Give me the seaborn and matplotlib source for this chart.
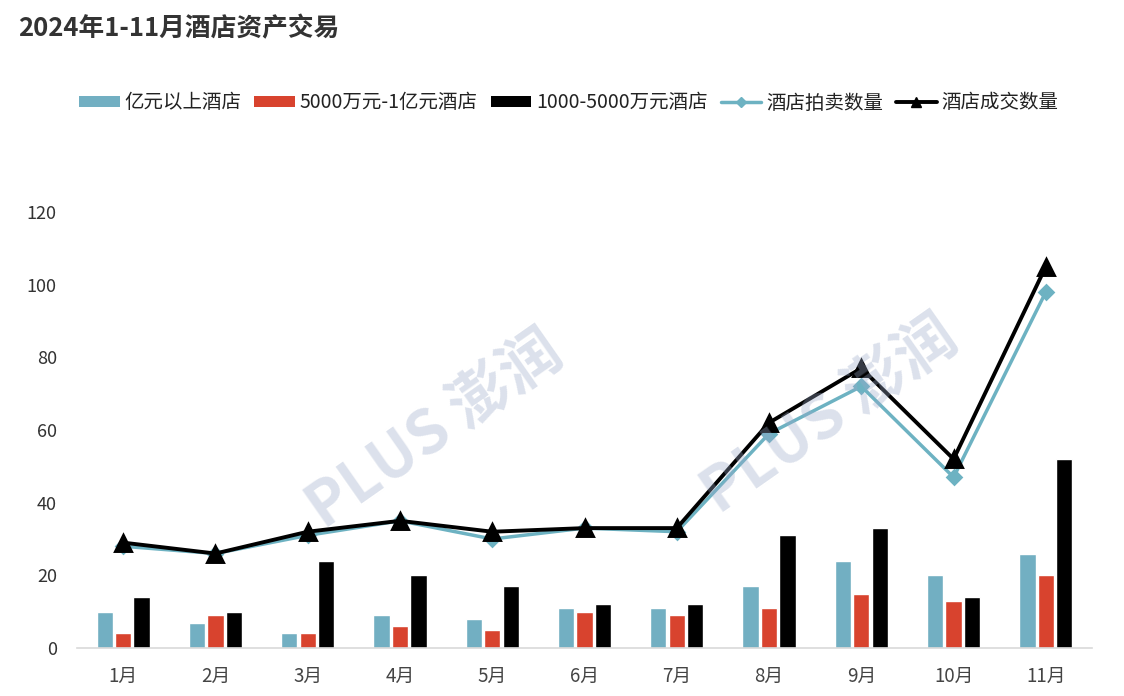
import numpy as np
import pandas as pd
import matplotlib
matplotlib.use("Agg")
import matplotlib.pyplot as plt
from matplotlib.patches import Patch
from matplotlib.lines import Line2D
import seaborn as sns

months = ["1月", "2月", "3月", "4月", "5月", "6月", "7月", "8月", "9月", "10月", "11月"]
above_100m = [10, 7, 4, 9, 8, 11, 11, 17, 24, 20, 26]
m50_100 = [4, 9, 4, 6, 5, 10, 9, 11, 15, 13, 20]
m10_50 = [14, 10, 24, 20, 17, 12, 12, 31, 33, 14, 52]
auction_count = [28, 26, 31, 35, 30, 33, 32, 59, 72, 47, 98]
deal_count = [29, 26, 32, 35, 32, 33, 33, 62, 77, 52, 105]
bar_names = ["亿元以上酒店", "5000万元-1亿元酒店", "1000-5000万元酒店"]
line_names = ["酒店拍卖数量", "酒店成交数量"]
title = "2024年1-11月酒店资产交易"

sns.set_theme(style="white")
plt.rcParams["font.family"] = ["Noto Sans CJK SC", "DejaVu Sans"]

c_blue = "#72AFC2"
c_red = "#D8432E"
c_black = "#000000"
c_teal = "#6DB2C2"

df = pd.DataFrame({
    "month": months * 3,
    "value": above_100m + m50_100 + m10_50,
    "type": [bar_names[0]] * 11 + [bar_names[1]] * 11 + [bar_names[2]] * 11,
})

fig = plt.figure(figsize=(11.24, 6.96), dpi=100)
ax = fig.add_axes([77 / 1124, 1 - 648 / 696, (1092 - 77) / 1124, (648 - 212) / 696])

sns.barplot(data=df, x="month", y="value", hue="type", order=months, hue_order=bar_names,
            palette=[c_blue, c_red, c_black], width=0.6, gap=0.12, ax=ax, legend=False,
            saturation=1)

sns.pointplot(x=months, y=auction_count, color=c_teal, markers="D", linestyles="-",
              ax=ax, errorbar=None, markersize=7, linewidth=2.5, zorder=4)
sns.pointplot(x=months, y=deal_count, color=c_black, markers="^", linestyles="-",
              ax=ax, errorbar=None, markersize=11, linewidth=2.8, zorder=5)

ax.set_ylim(0, 120)
ax.set_xlim(-0.5, 10.5)
ax.set_yticks([0, 20, 40, 60, 80, 100, 120])
ax.set_xlabel("")
ax.set_ylabel("")
for s in ["top", "right", "left"]:
    ax.spines[s].set_visible(False)
ax.spines["bottom"].set_color("#d9d9d9")
ax.spines["bottom"].set_linewidth(1.2)
ax.tick_params(axis="y", length=0, pad=14.5, labelsize=13, labelcolor="#333333")
ax.tick_params(axis="x", which="major", length=0, pad=13, labelsize=13.5, labelcolor="#444444")
ax.set_xticks(np.arange(-0.5, 11, 1), minor=True)
ax.tick_params(axis="x", which="minor", length=6, color="#d0d0d0", width=1, direction="out")
ax.grid(False)

# watermark
for (wx, wy) in [(435, 430), (830, 415)]:
    fig.text(wx / 1124, 1 - wy / 696, "PLUS 澎润", fontsize=44, fontweight="bold",
             color="#9aa9c8", alpha=0.35, rotation=35, ha="center", va="center",
             zorder=0)

handles = [
    Patch(facecolor=c_blue, edgecolor="none"),
    Patch(facecolor=c_red, edgecolor="none"),
    Patch(facecolor=c_black, edgecolor="none"),
    Line2D([], [], color=c_teal, lw=2.5, marker="D", markersize=5),
    Line2D([], [], color=c_black, lw=2.8, marker="^", markersize=7),
]
fig.legend(handles, bar_names + line_names, loc="center", bbox_to_anchor=(0.506, 1 - 103 / 696),
           ncol=5, frameon=False, fontsize=14, handlelength=2.1, handleheight=0.5,
           handletextpad=0.25, columnspacing=0.65, labelcolor="#222222")

fig.text(18 / 1124, 1 - 29 / 696, title, fontsize=18.5, fontweight="bold", color="#333333",
         ha="left", va="center")

fig.savefig("out.png", dpi=100, facecolor="white")
